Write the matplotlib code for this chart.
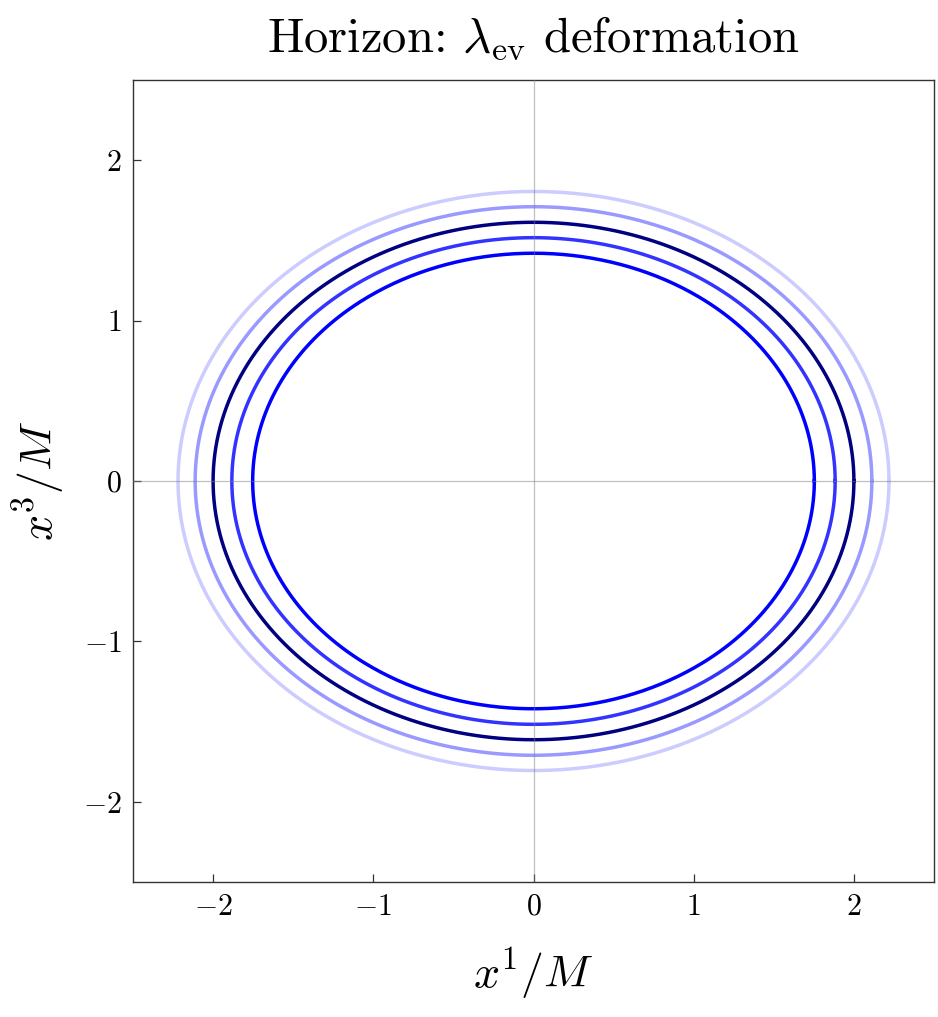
import numpy as np
import matplotlib
matplotlib.use("Agg")
import matplotlib.pyplot as plt

plt.rcParams['font.family'] = 'serif'
plt.rcParams['font.serif'] = ['cmr10']
plt.rcParams['mathtext.fontset'] = 'cm'
plt.rcParams['axes.formatter.use_mathtext'] = True

# Horizon contours: semi-axes along x^1 and x^3
semi_x1 = [1.753, 1.883, 2.000, 2.112, 2.219]
semi_x3 = [1.420, 1.517, 1.613, 1.710, 1.805]
colors = ['#0000ff', '#3333ff', '#000080', '#9999ff', '#ccccff']

ticks = [-2, -1, 0, 1, 2]

fig = plt.figure(figsize=(9.38, 10.17), dpi=100)
ax = fig.add_axes([133/938, (1017-882)/1017, 801/938, 802/1017])

t = np.linspace(0, 2*np.pi, 721)
for a, b, c in zip(semi_x1, semi_x3, colors):
    ax.plot(a*np.cos(t), b*np.sin(t), color=c, lw=2.5, zorder=2)

ax.axhline(0, color='gray', alpha=0.5, lw=0.9, zorder=3)
ax.axvline(0, color='gray', alpha=0.5, lw=0.9, zorder=3)

ax.set_xlim(-2.5, 2.5)
ax.set_ylim(-2.5, 2.5)
ax.set_xticks(ticks)
ax.set_yticks(ticks)
ax.tick_params(direction='in', length=6, width=0.9, labelsize=21.5, pad=8,
               top=False, right=False, color='#333333')
for s in ax.spines.values():
    s.set_color('#333333')
    s.set_linewidth(1.0)

ax.set_title(r'Horizon: $\lambda_{\rm ev}$ deformation', fontsize=35, pad=20)
ax.set_xlabel(r'$x^1/M$', fontsize=33, labelpad=18)
ax.set_ylabel(r'$x^3/M$', fontsize=33, labelpad=12)

fig.savefig('out.png', dpi=100)
